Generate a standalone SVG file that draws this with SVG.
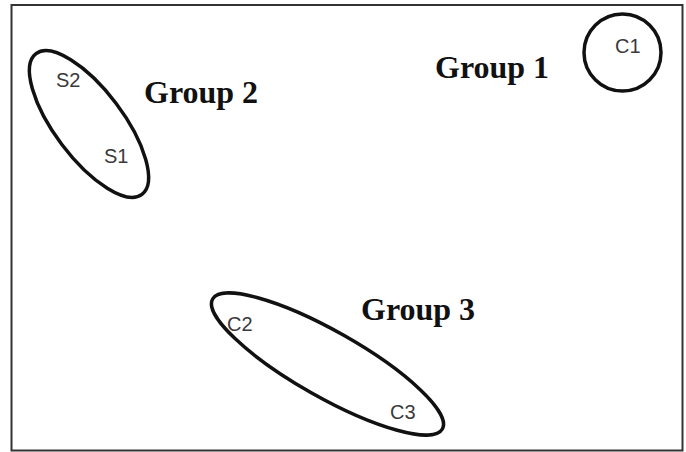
<svg xmlns="http://www.w3.org/2000/svg" width="686" height="452" viewBox="0 0 686 452">
<style>
.ring{fill:none;stroke:#111;stroke-width:3.5}
.lbl{font-family:"Liberation Sans",Arial,sans-serif;font-size:20px;fill:#3a3a3a}
.grp{font-family:"Liberation Serif","Times New Roman",serif;font-size:32px;font-weight:bold;fill:#111}
</style>
<rect x="0" y="0" width="686" height="452" fill="#fff"/>
<rect x="11.5" y="5" width="671" height="445.5" fill="none" stroke="#333" stroke-width="2"/>
<g id="group1">
<circle class="ring" cx="622.5" cy="52.5" r="38.5"/>
<text class="lbl" x="615" y="52.5">C1</text>
<text class="grp" x="435" y="78">Group 1</text>
</g>
<g id="group2">
<ellipse class="ring" cx="89" cy="124" rx="88" ry="34" transform="rotate(53 89 124)"/>
<text class="lbl" x="56" y="87">S2</text>
<text class="lbl" x="104" y="163">S1</text>
<text class="grp" x="144" y="102.5">Group 2</text>
</g>
<g id="group3">
<ellipse class="ring" cx="327.5" cy="364" rx="132" ry="33" transform="rotate(29.5 327.5 364)"/>
<text class="lbl" x="227" y="330.5">C2</text>
<text class="lbl" x="390" y="419">C3</text>
<text class="grp" x="361" y="320">Group 3</text>
</g>
<g id="connectors"/>
</svg>
